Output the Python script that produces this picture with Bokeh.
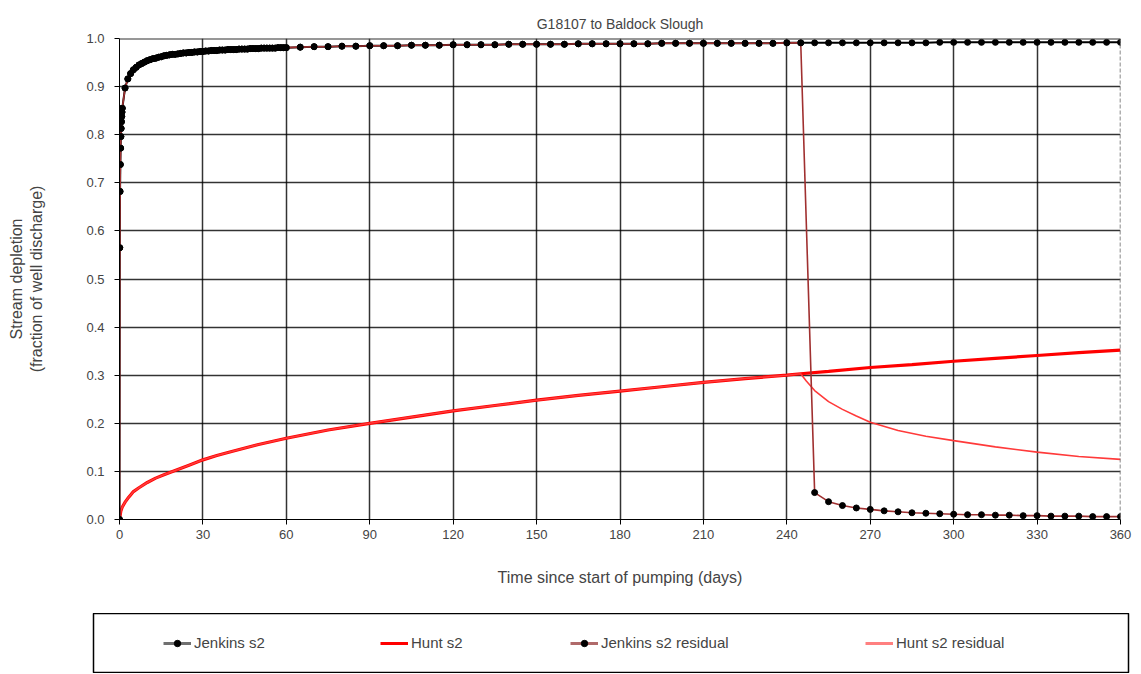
from bokeh.plotting import figure
from bokeh.models import Range1d, Legend, LegendItem, FixedTicker, NumeralTickFormatter, Span
from bokeh.layouts import column
from bokeh.embed import file_html
from bokeh.resources import INLINE

FONT = "Liberation Sans"

# ---------------- data ----------------
x_ticks = [0, 30, 60, 90, 120, 150, 180, 210, 240, 270, 300, 330, 360]
y_ticks = [0.0, 0.1, 0.2, 0.3, 0.4, 0.5, 0.6, 0.7, 0.8, 0.9, 1.0]

jenkins_days = [0, 0.1, 0.2, 0.3, 0.4, 0.5, 0.6, 0.7, 0.8, 0.9,
                1, 2, 3, 4, 5, 6, 7, 8, 9, 10, 11, 12, 13, 14, 15, 16, 17, 18, 19, 20,
                21, 22, 23, 24, 25, 26, 27, 28, 29, 30, 31, 32, 33, 34, 35, 36, 37, 38, 39, 40,
                41, 42, 43, 44, 45, 46, 47, 48, 49, 50, 51, 52, 53, 54, 55, 56, 57, 58, 59, 60,
                65, 70, 75, 80, 85, 90, 95, 100, 105, 110, 115, 120, 125, 130, 135, 140, 145,
                150, 155, 160, 165, 170, 175, 180, 185, 190, 195, 200, 205, 210, 215, 220,
                225, 230, 235, 240, 245]
jenkins_vals = [0.0, 0.565, 0.682, 0.738, 0.772, 0.796, 0.813, 0.827, 0.838, 0.847,
                0.855, 0.897, 0.916, 0.927, 0.935, 0.940, 0.945, 0.948, 0.951, 0.954,
                0.956, 0.958, 0.959, 0.961, 0.962, 0.964, 0.965, 0.966, 0.967, 0.967,
                0.968, 0.969, 0.970, 0.970, 0.971, 0.971, 0.972, 0.972, 0.973, 0.973,
                0.974, 0.974, 0.975, 0.975, 0.975, 0.976, 0.976, 0.976, 0.977, 0.977,
                0.977, 0.977, 0.978, 0.978, 0.978, 0.978, 0.979, 0.979, 0.979, 0.979,
                0.980, 0.980, 0.980, 0.980, 0.980, 0.980, 0.981, 0.981, 0.981, 0.981,
                0.982, 0.983, 0.983, 0.984, 0.984, 0.985, 0.985, 0.985, 0.986, 0.986,
                0.986, 0.987, 0.987, 0.987, 0.987, 0.988, 0.988, 0.988, 0.988, 0.988,
                0.989, 0.989, 0.989, 0.989, 0.989, 0.989, 0.990, 0.990, 0.990, 0.990,
                0.990, 0.990, 0.990, 0.990, 0.990, 0.991, 0.991]
jenkins_late_days = [250, 255, 260, 265, 270, 275, 280, 285, 290, 295, 300, 305, 310,
                     315, 320, 325, 330, 335, 340, 345, 350, 355, 360]
jenkins_late_vals = [0.991, 0.991, 0.991, 0.991, 0.991, 0.991, 0.991, 0.991, 0.991, 0.992,
                     0.992, 0.992, 0.992, 0.992, 0.992, 0.992, 0.992, 0.992, 0.992, 0.992,
                     0.992, 0.992, 0.992]
jenkins_resid_late_vals = [0.056, 0.037, 0.029, 0.024, 0.021, 0.018, 0.016, 0.014, 0.013,
                           0.012, 0.011, 0.010, 0.010, 0.009, 0.009, 0.008, 0.008, 0.007,
                           0.007, 0.007, 0.006, 0.006, 0.006]

hunt_days = [0, 0.5, 1, 2, 3, 4, 5, 7, 10, 13, 16, 20, 25, 30, 35, 40, 50, 60, 75, 90,
             105, 120, 135, 150, 165, 180, 195, 210, 225, 240, 245]
hunt_vals = [0.0, 0.018, 0.026, 0.036, 0.044, 0.051, 0.058, 0.066, 0.077, 0.086, 0.093,
             0.102, 0.113, 0.124, 0.133, 0.141, 0.156, 0.169, 0.186, 0.200,
             0.213, 0.226, 0.237, 0.248, 0.258, 0.267, 0.276, 0.285, 0.293, 0.300, 0.303]
hunt_late_days = [255, 270, 285, 300, 315, 330, 345, 360]
hunt_late_vals = [0.308, 0.316, 0.322, 0.329, 0.335, 0.341, 0.347, 0.352]
hunt_resid_late_days = [247, 250, 255, 260, 265, 270, 280, 290, 300, 315, 330, 345, 360]
hunt_resid_late_vals = [0.288, 0.268, 0.245, 0.229, 0.215, 0.202, 0.185, 0.173, 0.164,
                        0.151, 0.140, 0.131, 0.125]

labels = ["Jenkins s2", "Hunt s2", "Jenkins s2 residual", "Hunt s2 residual"]

# series assembled from the lists above
j_x = jenkins_days + jenkins_late_days
j_y = jenkins_vals + jenkins_late_vals
jr_x = jenkins_days + jenkins_late_days
jr_y = jenkins_vals + jenkins_resid_late_vals
h_x = hunt_days + hunt_late_days
h_y = hunt_vals + hunt_late_vals
hr_x = hunt_days + hunt_resid_late_days
hr_y = hunt_vals + hunt_resid_late_vals

C_JEN = "black"
C_HUNT = "#ff0000"
C_JR = "#a03030"
C_HR = "#ff3a3a"

# ---------------- main chart ----------------
p = figure(width=1133, height=613, output_backend="svg", toolbar_location=None,
           x_range=Range1d(0, 360), y_range=Range1d(0, 1),
           min_border_left=119, min_border_right=13, min_border_top=38,
           min_border_bottom=94)
p.frame_align = False
p.title.text = "G18107 to Baldock Slough"
p.title.align = "center"
p.title.vertical_align = "top"
p.title.text_font = FONT
p.title.text_font_size = "14px"
p.title.text_font_style = "normal"
p.title.standoff = 10

p.xaxis.ticker = FixedTicker(ticks=x_ticks)
p.yaxis.ticker = FixedTicker(ticks=y_ticks)
p.xgrid.ticker = FixedTicker(ticks=x_ticks)
p.ygrid.ticker = FixedTicker(ticks=y_ticks)
p.yaxis.formatter = NumeralTickFormatter(format="0.0")
for ax in (p.xaxis, p.yaxis):
    ax.major_label_text_font = FONT
    ax.major_label_text_font_size = "13px"
    ax.axis_label_text_font = FONT
    ax.axis_label_text_font_size = "16px"
    ax.axis_label_text_font_style = "normal"
    ax.major_tick_out = 5
    ax.major_tick_in = 0
    ax.minor_tick_out = 0
    ax.minor_tick_in = 0
    ax.axis_line_color = "black"
    ax.major_tick_line_color = "black"
p.xaxis.axis_label = "Time since start of pumping (days)"
p.yaxis.axis_label = "Stream depletion\n(fraction of well discharge)"
p.xaxis.major_label_standoff = 5
p.yaxis.major_label_standoff = 10
p.xaxis.axis_label_standoff = 27
p.yaxis.axis_label_standoff = 38

p.grid.grid_line_color = "black"
p.grid.grid_line_width = 1.5
p.grid.grid_line_alpha = 0.8
p.outline_line_color = None
p.add_layout(Span(location=360, dimension="height", line_color="#606060",
                  line_width=1.5, line_dash="4 2"))
p.add_layout(Span(location=1.0, dimension="width", line_color="#303030", line_width=2))

p.line(h_x, h_y, line_color=C_HUNT, line_width=3.2)
p.line(hr_x, hr_y, line_color=C_HR, line_width=1.6)
p.line(j_x, j_y, line_color=C_JEN, line_width=2)
p.scatter(j_x, j_y, size=6, fill_color="black", line_color="black")
p.line(jr_x, jr_y, line_color=C_JR, line_width=1.6)
p.scatter(jr_x, jr_y, size=6, fill_color="black", line_color="black")

# ---------------- legend box ----------------
lg = figure(width=1133, height=60, output_backend="svg", toolbar_location=None,
            x_range=Range1d(0, 1), y_range=Range1d(0, 1),
            x_axis_type=None, y_axis_type=None,
            min_border_left=93, min_border_right=5, min_border_top=0, min_border_bottom=0)
lg.frame_align = False
lg.outline_line_color = "black"
lg.outline_line_width = 1.5

r_j = [lg.line([-1, -2], [-1, -2], line_color="#707070", line_width=3),
       lg.scatter([-1], [-1], size=5, fill_color="black", line_color="black")]
r_h = [lg.line([-1, -2], [-1, -2], line_color=C_HUNT, line_width=3)]
r_jr = [lg.line([-1, -2], [-1, -2], line_color="#b06a6a", line_width=3),
        lg.scatter([-1], [-1], size=5, fill_color="black", line_color="black")]
r_hr = [lg.line([-1, -2], [-1, -2], line_color="#ff8080", line_width=3)]

positions = [70, 287, 477, 772]
for lab, rs, xpos in zip(labels, [r_j, r_h, r_jr, r_hr], positions):
    leg = Legend(items=[LegendItem(label=lab, renderers=rs)], location=(xpos, 22),
                 padding=0, margin=0, border_line_color=None, background_fill_alpha=0,
                 glyph_width=28, glyph_height=16, label_standoff=3, label_height=16,
                 label_text_font=FONT, label_text_font_size="15px")
    lg.add_layout(leg, "center")

layout = column(p, lg, spacing=0)
open("out.html", "w").write(file_html(layout, INLINE))
